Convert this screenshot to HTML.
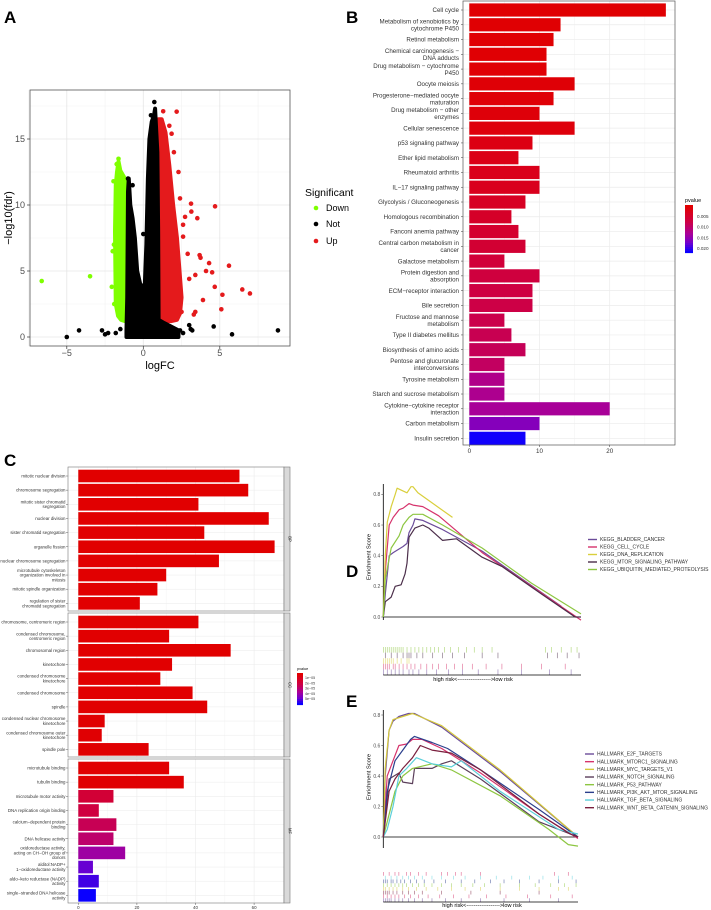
<!DOCTYPE html>
<html><head><meta charset="utf-8"><style>
html,body{margin:0;padding:0;background:#fff;}
svg{display:block;font-family:"Liberation Sans",sans-serif;}
</style></head><body>
<svg id="fig" width="711" height="910" viewBox="0 0 711 910" xmlns="http://www.w3.org/2000/svg"></svg>
<script>
// ---------- DATA ----------
// Panel A volcano
const notEnvX=[-1.1,-1.05,-1.0,-0.95,-0.85,-0.7,-0.55,-0.4,-0.2,0,0.1,0.2,0.3,0.4,0.55,0.7,0.77,0.85,0.92,0.97,1.0,1.3,1.8,2.3];
const notEnvY=[0.5,3,11,12,10,9,7.5,5,4,3.8,4,7,12,15,16.3,16.8,17.3,15.5,14,8,1.3,1.1,0.8,0.5];
const notPtsX=[-5.0,-4.2,-2.7,-2.5,-2.3,4.6,5.8,8.8,-1.0,-0.7,0.0,0.72,0.5,3.0,3.2,2.4,2.6,-1.5,-1.8,1.2,3.1];
const notPtsY=[0.0,0.5,0.5,0.2,0.3,0.8,0.2,0.5,12,11.5,7.8,17.8,16.8,0.9,0.5,0.5,0.3,0.6,0.3,0.2,0.6];
const upEnvX=[1.0,1.2,1.45,1.7,1.95,2.2,2.4,2.5,2.4,2.2,1.8,1.3,1.0];
const upEnvY=[16.5,16.5,15.5,13,10,7.5,4.5,3,1.8,1.3,1.2,1.2,1.2];
const upPtsX=[1.3,2.18,1.7,1.85,3.12,3.14,3.53,4.69,3.68,3.74,4.3,5.6,6.47,6.97,4.67,5.17,5.1,3.4,2.5,3.9,4.1,2.6,2.9,3.4,2.73,3.0,3.3,2.2,4.5,2.3,2.6,2.0,2.4];
const upPtsY=[17.1,17.07,16.0,15.4,10.1,9.5,9.0,9.9,6.2,6.0,5.6,5.4,3.6,3.3,3.8,3.2,2.1,1.9,1.9,2.8,5.0,7.6,6.3,4.7,9.1,4.4,1.7,3.5,4.9,12.5,8.5,14.0,10.5];
const downEnvX=[-1.0,-1.05,-1.2,-1.35,-1.5,-1.62,-1.72,-1.8,-1.85,-1.8,-1.65,-1.45,-1.2,-1.0];
const downEnvY=[10,11.5,12.0,12.3,12.6,13.3,12.5,11.5,8,2.5,1.6,1.3,1.2,1.2];
const downPtsX=[-6.64,-3.48,-2.06,-1.9,-1.74,-1.62,-1.95,-2.0,-1.92];
const downPtsY=[4.24,4.6,3.8,2.5,13.1,13.5,11.8,6.5,7.0];
const aXTicks=[-5,0,5];
const aYTicks=[0,5,10,15];

// Panel B KEGG bars
const kegCats=["Cell cycle","Metabolism of xenobiotics by|cytochrome P450","Retinol metabolism","Chemical carcinogenesis \u2212|DNA adducts","Drug metabolism \u2212 cytochrome|P450","Oocyte meiosis","Progesterone\u2212mediated oocyte|maturation","Drug metabolism \u2212 other|enzymes","Cellular senescence","p53 signaling pathway","Ether lipid metabolism","Rheumatoid arthritis","IL\u221217 signaling pathway","Glycolysis / Gluconeogenesis","Homologous recombination","Fanconi anemia pathway","Central carbon metabolism in|cancer","Galactose metabolism","Protein digestion and|absorption","ECM\u2212receptor interaction","Bile secretion","Fructose and mannose|metabolism","Type II diabetes mellitus","Biosynthesis of amino acids","Pentose and glucuronate|interconversions","Tyrosine metabolism","Starch and sucrose metabolism","Cytokine\u2212cytokine receptor|interaction","Carbon metabolism","Insulin secretion"];
const kegCounts=[28,13,12,11,11,15,12,10,15,9,7,10,10,8,6,7,8,5,10,9,9,5,6,8,5,5,5,20,10,8];
const kegP=[0.0002,0.0003,0.0003,0.0004,0.0005,0.0006,0.0008,0.0010,0.0012,0.0020,0.0024,0.0028,0.0032,0.0038,0.0044,0.0050,0.0056,0.0062,0.0068,0.0072,0.0076,0.0080,0.0084,0.0088,0.0094,0.0122,0.0126,0.0132,0.0160,0.0215];
const kegTicks=[0,10,20];
const kegLegendTicks=[0.005,0.010,0.015,0.020];

// Panel C GO bars
const goCats=[
 ["mitotic nuclear division","chromosome segregation","mitotic sister chromatid|segregation","nuclear division","sister chromatid segregation","organelle fission","nuclear chromosome segregation","microtubule cytoskeleton|organization involved in|mitosis","mitotic spindle organization","regulation of sister|chromatid segregation"],
 ["chromosome, centromeric region","condensed chromosome,|centromeric region","chromosomal region","kinetochore","condensed chromosome|kinetochore","condensed chromosome","spindle","condensed nuclear chromosome|kinetochore","condensed chromosome outer|kinetochore","spindle pole"],
 ["microtubule binding","tubulin binding","microtubule motor activity","DNA replication origin binding","calcium\u2212dependent protein|binding","DNA helicase activity","oxidoreductase activity,|acting on CH\u2212OH group of|donors","alditol:NADP+|1\u2212oxidoreductase activity","aldo\u2212keto reductase (NADP)|activity","single\u2212stranded DNA helicase|activity"]];
const goCounts=[[55,58,41,65,43,67,48,30,27,21],[41,31,52,32,28,39,44,9,8,24],[31,36,12,7,13,12,16,5,7,6]];
const goP=[[1e-7,1e-7,2e-7,1e-7,2e-7,1e-7,2e-7,3e-7,3e-7,4e-7],[2e-7,3e-7,1e-7,3e-7,4e-7,2e-7,2e-7,6e-7,7e-7,5e-7],[3e-7,5e-7,1.5e-5,1.8e-5,2.2e-5,2.6e-5,3.6e-5,4.6e-5,5.0e-5,5.6e-5]];
const goFacets=["BP","CC","MF"];
const goTicks=[0,20,40,60];
const goLegendTicks=["1e\u221205","2e\u221205","3e\u221205","4e\u221205","5e\u221205"];

// Panel D GSEA KEGG
const dNames=["KEGG_BLADDER_CANCER","KEGG_CELL_CYCLE","KEGG_DNA_REPLICATION","KEGG_MTOR_SIGNALING_PATHWAY","KEGG_UBIQUITIN_MEDIATED_PROTEOLYSIS"];
const dColors=["#6b4c9a","#d6336c","#d9cf3c","#4b2e4a","#8dc641"];
const dX0=[0,0.01,0.03,0.05,0.1,0.12,0.13,0.15,0.16,0.2,0.3,0.5,0.9];
const dY0=[0,0.15,0.4,0.42,0.46,0.48,0.55,0.6,0.64,0.63,0.57,0.43,0.07];
const dX1=[0,0.01,0.03,0.05,0.08,0.1,0.13,0.15,0.2,0.28,0.5,0.75,1.0];
const dY1=[0,0.3,0.6,0.65,0.7,0.71,0.74,0.73,0.72,0.66,0.42,0.2,-0.02];
const dX2=[0,0.01,0.02,0.04,0.06,0.07,0.12,0.14,0.15,0.175,0.35];
const dY2=[0,0.4,0.62,0.72,0.8,0.84,0.81,0.85,0.85,0.81,0.65];
const dX3=[0,0.01,0.04,0.06,0.09,0.11,0.12,0.13,0.16,0.2,0.23,0.3,0.37,0.5,0.6,0.8,0.97,1.0];
const dY3=[0,0.1,0.13,0.2,0.21,0.28,0.35,0.52,0.58,0.6,0.58,0.5,0.51,0.39,0.33,0.15,0.0,0.0];
const dX4=[0,0.01,0.04,0.08,0.1,0.13,0.15,0.2,0.3,0.5,0.75,1.0];
const dY4=[0,0.25,0.45,0.53,0.6,0.65,0.67,0.67,0.6,0.45,0.22,0.02];
const dYTicks=[0.0,0.2,0.4,0.6,0.8];
const dRug0=[0.0,0.01,0.02,0.03,0.04,0.05,0.06,0.07,0.08,0.09,0.1,0.12,0.14,0.16,0.18,0.2,0.22,0.24,0.26,0.28,0.31,0.34,0.38,0.42,0.46,0.5,0.55,0.82,0.85,0.9,0.95,0.98];
const dRug1=[0.01,0.04,0.07,0.1,0.12,0.13,0.14,0.17,0.2,0.25,0.3,0.35,0.41,0.5,0.58,0.83,0.88,0.93,0.99];
const dRug2=[0.0,0.01,0.02,0.03,0.04,0.05,0.07,0.09,0.12,0.13];
const dRug3=[0.0,0.01,0.02,0.03,0.05,0.06,0.08,0.1,0.12,0.14,0.16,0.19,0.22,0.25,0.28,0.32,0.36,0.4,0.45,0.52,0.6,0.7,0.8,0.92];
const dRug4=[0.0,0.02,0.04,0.06,0.08,0.1,0.13,0.15,0.18,0.22,0.27,0.33,0.4,0.48,0.58,0.7,0.84,0.95];

// Panel E GSEA Hallmark
const eNames=["HALLMARK_E2F_TARGETS","HALLMARK_MTORC1_SIGNALING","HALLMARK_MYC_TARGETS_V1","HALLMARK_NOTCH_SIGNALING","HALLMARK_P53_PATHWAY","HALLMARK_PI3K_AKT_MTOR_SIGNALING","HALLMARK_TGF_BETA_SIGNALING","HALLMARK_WNT_BETA_CATENIN_SIGNALING"];
const eColors=["#6b4c9a","#d6336c","#d4c83a","#5b3f5a","#8dc641","#2b3f8c","#5bcfda","#7a1f3d"];
const eX0=[0,0.01,0.03,0.05,0.08,0.13,0.16,0.3,0.6,1];
const eY0=[0,0.4,0.7,0.76,0.79,0.81,0.81,0.72,0.43,0.0];
const eX1=[0,0.02,0.05,0.08,0.12,0.15,0.2,0.3,0.5,0.8,1];
const eY1=[0,0.4,0.5,0.6,0.61,0.64,0.64,0.58,0.42,0.15,-0.01];
const eX2=[0,0.01,0.03,0.05,0.1,0.15,0.3,0.6,1];
const eY2=[0,0.45,0.7,0.77,0.79,0.81,0.73,0.44,0.0];
const eX3=[0,0.03,0.08,0.1,0.15,0.16,0.25,0.3,0.35,0.5,0.8,1];
const eY3=[0,0.38,0.42,0.36,0.35,0.45,0.45,0.48,0.5,0.38,0.1,0.0];
const eX4=[0,0.02,0.06,0.1,0.15,0.25,0.35,0.6,0.85,0.95,1];
const eY4=[0,0.1,0.3,0.4,0.45,0.48,0.44,0.27,0.05,-0.05,-0.06];
const eX5=[0,0.02,0.06,0.1,0.14,0.16,0.25,0.33,0.5,0.8,1];
const eY5=[0,0.3,0.5,0.57,0.64,0.66,0.62,0.58,0.44,0.18,0.0];
const eX6=[0,0.02,0.05,0.08,0.12,0.17,0.25,0.35,0.4,0.6,0.9,1];
const eY6=[0,0.05,0.2,0.4,0.45,0.52,0.48,0.46,0.5,0.3,0.05,0.02];
const eX7=[0,0.03,0.06,0.1,0.15,0.19,0.25,0.35,0.5,0.8,0.96,1];
const eY7=[0,0.3,0.38,0.45,0.52,0.6,0.57,0.55,0.44,0.15,0.02,0.0];
const eYTicks=[0.0,0.2,0.4,0.6,0.8];
const eRug0=[0.0,0.03,0.06,0.08,0.12,0.14,0.18,0.22,0.3,0.33,0.37,0.4,0.5,0.88,0.95];
const eRug1=[0.01,0.04,0.07,0.1,0.13,0.16,0.2,0.25,0.3,0.36,0.42,0.5,0.58,0.66,0.75,0.82,0.9,0.97];
const eRug2=[0.0,0.01,0.02,0.04,0.05,0.07,0.09,0.11,0.14,0.17,0.21,0.26,0.32,0.4,0.47,0.55,0.62,0.7,0.8,0.9,0.99];
const eRug3=[0.0,0.02,0.04,0.06,0.08,0.1,0.12,0.15,0.18,0.21,0.25,0.3,0.35,0.4,0.46,0.52,0.6,0.7,0.78,0.86,0.93,0.99];
const eRug4=[0.0,0.01,0.03,0.05,0.07,0.1,0.13,0.17,0.22,0.28,0.35,0.42,0.5,0.6,0.7,0.8,0.9,0.95];
const eRug5=[0.0,0.01,0.02,0.03,0.05,0.07,0.1,0.13,0.16,0.2,0.3,0.45,0.6,0.8];
const eRug6=[0.0,0.02,0.04,0.06,0.08,0.11,0.14,0.18,0.23,0.29,0.36,0.44,0.53,0.63,0.74,0.86,0.97];
const eRug7=[0.0,0.01,0.02,0.03,0.04,0.06,0.08,0.1,0.13,0.16,0.2,0.25,0.32,0.4,0.5,0.62,0.75,0.9];

// ---------- HELPERS ----------
const NS='http://www.w3.org/2000/svg';
const svg=document.getElementById('fig');
function mk(tag,attrs,name,parent){
  const el=document.createElementNS(NS,tag);
  for(const k in attrs) el.setAttribute(k,attrs[k]);
  
  
  (parent||svg).appendChild(el);return el;
}
function txt(x,y,s,attrs,name,parent){const t=mk('text',Object.assign({x:x,y:y},attrs),name,parent);t.textContent=s;return t;}
function mtxt(x,y,s,fs,lh,attrs,name){
  const lines=s.split('|');
  const t=mk('text',Object.assign({x:x,y:y,'font-size':fs,'text-anchor':'end',fill:'#333'},attrs),name);
  const y0=y-(lines.length-1)*lh/2+fs*0.35;
  lines.forEach((l,i)=>{const ts=document.createElementNS(NS,'tspan');ts.setAttribute('x',x);ts.setAttribute('y',y0+i*lh);ts.textContent=l;t.appendChild(ts);});
  return t;
}
function lerp(a,b,t){return a+(b-a)*t;}
function gradCol(t){
  t=Math.max(0,Math.min(1,t));
  const st=[[0,225,0,0],[0.35,205,0,70],[0.6,170,0,150],[0.8,115,0,205],[1,10,0,255]];
  for(let i=0;i<st.length-1;i++){const a=st[i],b=st[i+1];if(t<=b[0]){const u=(t-a[0])/(b[0]-a[0]);return 'rgb('+Math.round(lerp(a[1],b[1],u))+','+Math.round(lerp(a[2],b[2],u))+','+Math.round(lerp(a[3],b[3],u))+')';}}
  return 'rgb(10,0,255)';
}

// ---------- PANEL LABELS ----------
[["A",4,23],["B",346,23],["C",4,466],["D",346,577],["E",346,707]].forEach(p=>{
  txt(p[1],p[2],p[0],{'font-size':17,'font-weight':'bold',fill:'#000'},'panel-label-'+p[0].toLowerCase());
});

// ---------- PANEL A ----------
(function(){
  const xA=v=>143.3+15.3*v, yA=v=>337-13.2*v;
  const L=30,T=90,R=290,B=346;
  mk('rect',{x:L,y:T,width:R-L,height:B-T,fill:'#fff'},'volcano-plot-area');
  [-7.5,-2.5,2.5,7.5].forEach(v=>mk('line',{x1:xA(v),x2:xA(v),y1:T,y2:B,stroke:'#f2f2f2','stroke-width':0.6},'volcano-minor-grid-x'));
  [2.5,7.5,12.5,17.5].forEach(v=>mk('line',{x1:L,x2:R,y1:yA(v),y2:yA(v),stroke:'#f2f2f2','stroke-width':0.6},'volcano-minor-grid-y'));
  aXTicks.forEach(v=>mk('line',{x1:xA(v),x2:xA(v),y1:T,y2:B,stroke:'#e6e6e6','stroke-width':0.8},'volcano-grid-x'));
  aYTicks.forEach(v=>mk('line',{x1:L,x2:R,y1:yA(v),y2:yA(v),stroke:'#e6e6e6','stroke-width':0.8},'volcano-grid-y'));
  function env(xs,ys,col,name){
    const pts=xs.map((x,i)=>xA(x)+','+yA(ys[i])).join(' ');
    mk('polygon',{points:pts+(name==='not-envelope'?' '+xA(xs[xs.length-1])+','+yA(0)+' '+xA(xs[0])+','+yA(0):''),fill:col,stroke:col,'stroke-width':4,'stroke-linejoin':'round'},name);
  }
  env(downEnvX,downEnvY,'#7fff00','down-envelope');
  env(upEnvX,upEnvY,'#e41a1c','up-envelope');
  env(notEnvX,notEnvY,'#000','not-envelope');
  downPtsX.forEach((x,i)=>mk('circle',{cx:xA(x),cy:yA(downPtsY[i]),r:2.3,fill:'#7fff00'},'point-down'));
  upPtsX.forEach((x,i)=>mk('circle',{cx:xA(x),cy:yA(upPtsY[i]),r:2.3,fill:'#e41a1c'},'point-up'));
  notPtsX.forEach((x,i)=>mk('circle',{cx:xA(x),cy:yA(notPtsY[i]),r:2.3,fill:'#000'},'point-not'));
  mk('rect',{x:L,y:T,width:R-L,height:B-T,fill:'none',stroke:'#555','stroke-width':0.8},'volcano-border');
  aXTicks.forEach(v=>{mk('line',{x1:xA(v),x2:xA(v),y1:B,y2:B+3,stroke:'#333','stroke-width':0.7},'volcano-x-tick');
    txt(xA(v),356,String(v).replace('-','\u2212'),{'font-size':9,'text-anchor':'middle',fill:'#4d4d4d'},'volcano-x-tick-label');});
  aYTicks.forEach(v=>{mk('line',{x1:L-3,x2:L,y1:yA(v),y2:yA(v),stroke:'#333','stroke-width':0.7},'volcano-y-tick');
    txt(L-5,yA(v)+3,String(v),{'font-size':9,'text-anchor':'end',fill:'#4d4d4d'},'volcano-y-tick-label');});
  txt(160,369,'logFC',{'font-size':11,'text-anchor':'middle',fill:'#000'},'volcano-x-axis-title');
  txt(0,0,'\u2212log10(fdr)',{'font-size':11,'text-anchor':'middle',fill:'#000',transform:'translate(12,218) rotate(-90)'},'volcano-y-axis-title');
  txt(305,196,'Significant',{'font-size':10.5,fill:'#000'},'legend-title');
  [['Down','#7fff00',211],['Not','#000',227],['Up','#e41a1c',244]].forEach(e=>{
    mk('circle',{cx:316,cy:e[2]-3,r:2.3,fill:e[1]},'legend-key-'+e[0].toLowerCase());
    txt(326,e[2],e[0],{'font-size':9,fill:'#000'},'legend-entry-'+e[0].toLowerCase());
  });
})();

// ---------- PANEL B ----------
(function(){
  const L=463,T=1,R=675,B=445;
  const xB=v=>469.3+7.02*v;
  const yB=i=>10+i*14.77;
  const pMax=0.0218;
  [5,15,25].forEach(v=>mk('line',{x1:xB(v),x2:xB(v),y1:T,y2:B,stroke:'#f4f4f4','stroke-width':0.6},'kegg-minor-grid'));
  kegTicks.forEach(v=>mk('line',{x1:xB(v),x2:xB(v),y1:T,y2:B,stroke:'#ebebeb','stroke-width':0.7},'kegg-grid-x'));
  kegCats.forEach((c,i)=>{
    mk('line',{x1:L,x2:R,y1:yB(i),y2:yB(i),stroke:'#ebebeb','stroke-width':0.7},'kegg-grid-y');
    mk('rect',{x:xB(0),y:yB(i)-6.6,width:xB(kegCounts[i])-xB(0),height:13.2,fill:gradCol(kegP[i]/pMax)},'kegg-bar');
    mk('line',{x1:L-2,x2:L,y1:yB(i),y2:yB(i),stroke:'#333','stroke-width':0.5},'kegg-y-tick');
    mtxt(L-4,yB(i),c,6.2,7,{},'kegg-category-label');
  });
  mk('rect',{x:L,y:T,width:R-L,height:B-T,fill:'none',stroke:'#555','stroke-width':0.7},'kegg-border');
  kegTicks.forEach(v=>{mk('line',{x1:xB(v),x2:xB(v),y1:B,y2:B+2,stroke:'#333','stroke-width':0.5},'kegg-x-tick');
    txt(xB(v),453,String(v),{'font-size':6.2,'text-anchor':'middle',fill:'#333'},'kegg-x-tick-label');});
  txt(685,202,'pvalue',{'font-size':5.5,fill:'#000'},'kegg-legend-title');
  for(let k=0;k<24;k++){mk('rect',{x:685,y:205+k*2,width:8,height:2.1,fill:gradCol(k/23)},'kegg-colorbar-segment');}
  kegLegendTicks.forEach(v=>{const y=205+47*v/pMax;
    txt(697,y+2,v.toFixed(3),{'font-size':4.6,fill:'#333'},'kegg-legend-label');});
})();

// ---------- PANEL C ----------
(function(){
  const L=68,R=284;
  const xC=v=>78.3+2.93*v;
  const facetTop=[467,613,759], facetH=144;
  const pMax=5.6e-5;
  goFacets.forEach((f,fi)=>{
    const T=facetTop[fi],B=T+facetH;
    [10,30,50].forEach(v=>mk('line',{x1:xC(v),x2:xC(v),y1:T,y2:B,stroke:'#f4f4f4','stroke-width':0.5},'go-minor-grid'));
    goTicks.forEach(v=>mk('line',{x1:xC(v),x2:xC(v),y1:T,y2:B,stroke:'#ebebeb','stroke-width':0.6},'go-grid-x'));
    goCats[fi].forEach((c,i)=>{
      const y=T+9+i*14.15;
      mk('line',{x1:L,x2:R,y1:y,y2:y,stroke:'#ebebeb','stroke-width':0.5},'go-grid-y');
      mk('rect',{x:xC(0),y:y-6.3,width:xC(goCounts[fi][i])-xC(0),height:12.6,fill:gradCol(goP[fi][i]/pMax)},'go-bar-'+f.toLowerCase());
      mk('line',{x1:L-2,x2:L,y1:y,y2:y,stroke:'#333','stroke-width':0.4},'go-y-tick');
      mtxt(L-2.5,y,c,4.4,4.8,{},'go-category-label');
    });
    mk('rect',{x:L,y:T,width:R-L,height:facetH,fill:'none',stroke:'#777','stroke-width':0.6},'go-facet-border');
    mk('rect',{x:R,y:T,width:6,height:facetH,fill:'#d9d9d9',stroke:'#777','stroke-width':0.6},'go-strip');
    txt(0,0,f,{'font-size':4.2,'text-anchor':'middle',fill:'#1a1a1a',transform:'translate('+(R+4.5)+','+(T+facetH/2)+') rotate(90)'},'go-strip-label');
  });
  goTicks.forEach(v=>{mk('line',{x1:xC(v),x2:xC(v),y1:903,y2:905,stroke:'#333','stroke-width':0.4},'go-x-tick');
    txt(xC(v),909,String(v),{'font-size':4.4,'text-anchor':'middle',fill:'#333'},'go-x-tick-label');});
  txt(297,670,'pvalue',{'font-size':3.8,fill:'#000'},'go-legend-title');
  for(let k=0;k<16;k++){mk('rect',{x:297,y:673+k*2,width:6,height:2.1,fill:gradCol(k/15)},'go-colorbar-segment');}
  goLegendTicks.forEach((s,i)=>txt(305,679+i*5.3,s,{'font-size':3.6,fill:'#333'},'go-legend-label'));
})();

// ---------- GSEA helper ----------
function gsea(cfg){
  const xs=v=>cfg.x0+(cfg.x1-cfg.x0)*v, ys=v=>cfg.y0-cfg.k*v;
  mk('line',{x1:cfg.x0,x2:cfg.x0,y1:cfg.axTop,y2:cfg.axBot,stroke:'#000','stroke-width':0.8},cfg.id+'-y-axis');
  mk('line',{x1:cfg.x0,x2:cfg.x1,y1:ys(0),y2:ys(0),stroke:'#000','stroke-width':0.8},cfg.id+'-zero-line');
  cfg.ticks.forEach(v=>{mk('line',{x1:cfg.x0-2,x2:cfg.x0,y1:ys(v),y2:ys(v),stroke:'#333','stroke-width':0.5},cfg.id+'-y-tick');
    txt(cfg.x0-3,ys(v)+1.8,v.toFixed(1),{'font-size':5,'text-anchor':'end',fill:'#4d4d4d'},cfg.id+'-y-tick-label');});
  txt(0,0,'Enrichment Score',{'font-size':5.8,'text-anchor':'middle',fill:'#000',transform:'translate('+(cfg.x0-13)+','+cfg.titleY+') rotate(-90)'},cfg.id+'-y-axis-title');
  cfg.series.forEach((s,i)=>{
    const d=s.x.map((x,j)=>(j?'L':'M')+xs(x).toFixed(1)+','+ys(s.y[j]).toFixed(1)).join('');
    mk('path',{d:d,fill:'none',stroke:cfg.colors[i],'stroke-width':1.2,'stroke-linejoin':'round'},cfg.id+'-curve-'+cfg.names[i].toLowerCase().replace(/_/g,'-'));
  });
  cfg.rugs.forEach((r,ri)=>{
    const yt=cfg.rugTop+ri*cfg.rugH;
    r.pos.forEach(p=>mk('line',{x1:xs(p),x2:xs(p),y1:yt,y2:yt+cfg.rugH,stroke:r.col,'stroke-width':0.6,opacity:0.75},cfg.id+'-rug-tick'));
  });
  mk('line',{x1:cfg.x0,x2:cfg.x1,y1:cfg.rugBot,y2:cfg.rugBot,stroke:'#000','stroke-width':0.7},cfg.id+'-rug-axis');
  txt(cfg.riskX,cfg.riskY,'high risk<------------------>low risk',{'font-size':5.6,'text-anchor':'middle',fill:'#000'},cfg.id+'-risk-label');
  cfg.names.forEach((n,i)=>{const y=cfg.legY0+i*cfg.legDy;
    mk('line',{x1:cfg.legX-12,x2:cfg.legX-3,y1:y,y2:y,stroke:cfg.colors[i],'stroke-width':1.4},cfg.id+'-legend-key');
    txt(cfg.legX,y+1.7,n,{'font-size':5,fill:'#333'},cfg.id+'-legend-entry');});
}
gsea({id:'gsea-kegg',x0:383.3,x1:581,y0:617,k:153.3,axTop:484,axBot:620,ticks:dYTicks,titleY:557,
  names:dNames,colors:dColors,
  series:[{x:dX0,y:dY0},{x:dX1,y:dY1},{x:dX2,y:dY2},{x:dX3,y:dY3},{x:dX4,y:dY4}],
  rugs:[{pos:dRug0,col:dColors[4]},{pos:dRug1,col:dColors[3]},{pos:dRug2,col:dColors[2]},{pos:dRug3,col:dColors[1]},{pos:dRug4,col:dColors[0]}],
  rugTop:647,rugH:5.6,rugBot:675,riskX:473,riskY:681,legX:600,legY0:539.5,legDy:7.5});
gsea({id:'gsea-hallmark',x0:383.3,x1:578,y0:837,k:152.5,axTop:710,axBot:848,ticks:eYTicks,titleY:777,
  names:eNames,colors:eColors,
  series:[{x:eX0,y:eY0},{x:eX1,y:eY1},{x:eX2,y:eY2},{x:eX3,y:eY3},{x:eX4,y:eY4},{x:eX5,y:eY5},{x:eX6,y:eY6},{x:eX7,y:eY7}],
  rugs:[{pos:eRug0,col:eColors[1]},{pos:eRug1,col:eColors[6]},{pos:eRug2,col:eColors[5]},{pos:eRug3,col:eColors[4]},{pos:eRug4,col:eColors[2]},{pos:eRug5,col:eColors[7]},{pos:eRug6,col:eColors[1]},{pos:eRug7,col:eColors[0]}],
  rugTop:872,rugH:3.75,rugBot:902,riskX:482,riskY:907,legX:597,legY0:754,legDy:7.67});
</script>
</body></html>
